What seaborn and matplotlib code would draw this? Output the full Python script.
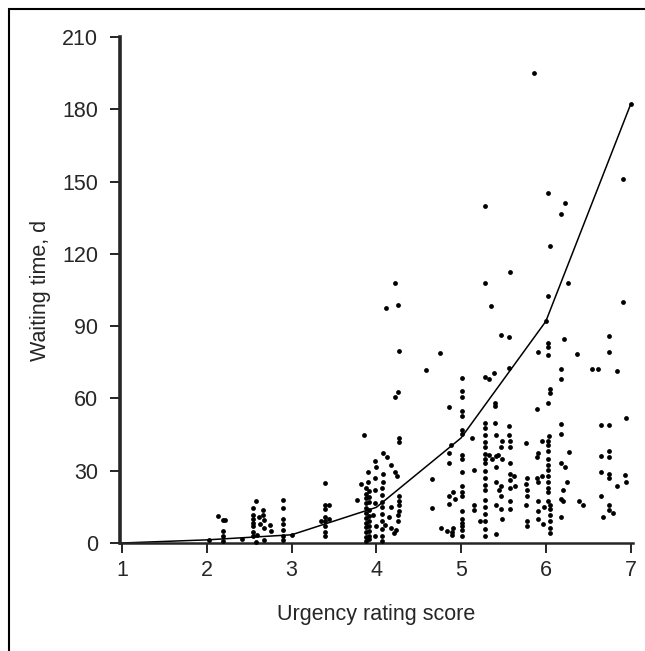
import numpy as np
import pandas as pd
import seaborn as sns
import matplotlib.pyplot as plt
from matplotlib.patches import Rectangle

# mean waiting time per urgency score (the line)
line_score = [1, 2, 3, 4, 5, 6, 7]
line_wait = [0, 1.3, 3.4, 14.8, 43.6, 92.0, 182.0]

# individual patients, grouped by score band
score_2_3 = [2.03, 2.13, 2.21, 2.19, 2.19, 2.19, 2.19, 2.41,
             2.58, 2.54, 2.55, 2.55, 2.55, 2.55, 2.55, 2.54, 2.58,
             2.66, 2.66, 2.61, 2.68, 2.63, 2.75, 2.76, 2.68, 2.68, 2.59,
             2.90, 2.90, 2.90, 2.90, 2.90, 2.90, 2.90, 3.00]
wait_2_3 = [1.2, 11.4, 9.5, 9.5, 5, 3, 1, 1.7,
            17.6, 14.6, 11.5, 9.8, 8.4, 7.2, 4.6, 2.9, 0.5,
            13.6, 11.5, 10.7, 9.5, 7.8, 7.6, 5, 6.4, 1.2, 3.2,
            17.9, 14.6, 9.8, 7.8, 5.5, 2.9, 1.2, 3.3]

score_3_4 = [3.40, 3.40, 3.44, 3.40, 3.40, 3.40, 3.44, 3.40, 3.40, 3.40, 3.35,
             3.85, 3.77, 3.82, 3.90, 3.90,
             3.88, 3.88, 3.88, 3.88, 3.88, 3.88, 3.88, 3.88, 3.88, 3.88, 3.88, 3.88,
             3.91, 3.91, 3.91, 3.91, 3.91, 3.91, 3.91, 3.91, 3.91, 3.91,
             3.98, 4.00, 3.98, 3.98, 3.98, 3.96, 4.00, 3.98,
             4.08, 4.13, 4.17, 4.22, 4.24, 4.08, 4.08,
             4.07, 4.07, 4.07, 4.07, 4.07, 4.07, 4.07, 4.07, 4.07,
             4.10, 4.17, 4.15, 4.17, 4.21, 4.23, 4.25, 4.26, 4.27, 4.27, 4.27, 4.27,
             4.12, 4.22, 4.26, 4.22, 4.26, 4.27, 4.27, 4.27]
wait_3_4 = [24.8, 15.8, 15.8, 14.1, 10.7, 9, 10, 7.2, 4.6, 2.9, 9,
            45, 18, 24.5, 29.6, 25.3,
            22.7, 20.5, 18.5, 16.5, 14.5, 12.5, 10.5, 8.5, 6.5, 4.5, 2.5, 1,
            21.5, 19, 17, 13.5, 11, 9, 7, 5, 3, 1.5,
            34, 31.4, 27, 21.9, 16.7, 11.5, 7.2, 2.9,
            37.4, 35.7, 32.2, 29.6, 27.9, 28.8, 25.3,
            22.7, 20, 17, 15, 12, 9, 6, 3, 1,
            7.5, 15, 10.7, 6.4, 4, 5.5, 9, 11.5, 13.3, 17.6, 19.3, 15.6,
            97.7, 107.8, 98.9, 60.6, 62.7, 79.6, 43.4, 42]

score_4_5 = [4.59, 4.75, 4.66, 4.66, 4.76, 4.83, 4.86, 4.86, 4.86, 4.86, 4.86,
             4.89, 4.89, 4.88, 4.90, 4.90, 4.93,
             5.01, 5.01, 5.01, 5.01, 5.01, 5.01, 5.01, 5.01, 5.01, 5.01,
             5.01, 5.01, 5.01, 5.01, 5.01, 5.01, 5.01, 5.01, 5.01,
             5.13, 5.15, 5.15, 5.15, 5.22]
wait_4_5 = [71.8, 78.7, 26.5, 14.6, 6.4, 5, 56.3, 37.4, 33, 19.3, 16.2,
            4.7, 3.3, 40.8, 21, 6.4, 18.4,
            68.4, 63.2, 60.6, 54.6, 52.9, 46.9, 45.1, 36.5, 34.8, 29.6,
            23.6, 21, 19.3, 13.3, 9.8, 7.2, 5.5, 2.9, 8.5,
            43.4, 30.5, 15.8, 13.6, 9]

score_5_6 = [5.28] * 21 + [
    5.35, 5.33, 5.33, 5.36, 5.39, 5.40, 5.40, 5.40, 5.41, 5.41, 5.43, 5.41, 5.41,
    5.41, 5.41, 5.45,
    5.47, 5.48, 5.47, 5.48, 5.47, 5.47, 5.47, 5.48,
    5.56, 5.56, 5.57, 5.58, 5.58, 5.58, 5.58, 5.58, 5.58, 5.58, 5.58, 5.58, 5.57,
    5.63, 5.64,
    5.77, 5.78, 5.77, 5.78, 5.78, 5.77, 5.78, 5.78, 5.86, 5.89, 5.89, 5.91, 5.89,
    5.91, 5.91, 5.91, 5.91, 5.96, 5.96, 5.97, 5.91]
wait_5_6 = [139.9, 108, 68.7, 49.8, 47.7, 45, 42, 40, 37, 35, 33, 30, 27, 24, 22,
            18, 15, 12, 9, 6, 3,
            98.2, 68, 36.5, 34.8, 70.6, 58, 56.8, 49.8, 45, 36, 36.5, 31.4, 25.3,
            15.8, 3.8, 22,
            86.5, 42.5, 40, 34.8, 23.6, 19.3, 14.1, 9.8,
            85.6, 45, 48.5, 42.5, 40, 33, 28.8, 26.2, 22.7, 17.6, 14.1, 112.3, 72.7,
            28, 23.6,
            41.7, 27, 24.5, 21.9, 19.3, 15.8, 9, 7.2, 195, 55.5, 35.7, 37.4, 27,
            25.3, 17.6, 13.3, 9.8, 42.5, 27.9, 7.8, 79.1]

score_6_7 = [6.02, 6.05, 6.02, 6.00, 6.02, 6.02, 6.02, 6.02, 6.05, 6.05, 6.02, 6.02,
             6.04, 6.03, 6.02, 6.02, 6.03, 6.02, 6.03, 6.02, 6.03, 6.02, 6.05,
             6.05, 6.05, 6.05, 6.05, 6.05, 5.98,
             6.18, 6.23, 6.26, 6.22, 6.18, 6.18, 6.18, 6.18, 6.18, 6.23, 6.27,
             6.25, 6.20, 6.18, 6.20, 6.18, 6.37, 6.39, 6.44,
             6.55, 6.62, 6.65, 6.65, 6.65, 6.65, 6.67, 6.74, 6.74, 6.74, 6.74,
             6.74, 6.75, 6.75, 6.75, 6.75, 6.79, 6.84, 6.84, 6.91, 6.91, 6.93,
             6.95, 6.95, 7.00]
wait_6_7 = [145.4, 123.2, 102.5, 92.0, 83, 81.3, 78.2, 58, 64, 62.4, 42.5, 40.8,
            44.3, 38.2, 34.8, 32.2, 30.5, 27.9, 25.3, 22.7, 21, 17.6, 15.8,
            14.1, 11.5, 9, 6.4, 4.3, 15,
            136.4, 141, 108, 84.7, 72.1, 68, 49.4, 45.1, 33, 31.4, 37.7,
            25.3, 21.9, 18.4, 17.6, 10.7, 78.5, 17.6, 15.8,
            72.3, 72.3, 49.1, 36, 29.6, 19.3, 10.7, 85.9, 79.1, 49.1, 38.2,
            35.7, 28.8, 27, 15.8, 13.6, 12.4, 71.4, 23.6, 151, 99.9, 28.4,
            52, 25.3, 182.0]

df = pd.DataFrame({
    "score": score_2_3 + score_3_4 + score_4_5 + score_5_6 + score_6_7,
    "wait": wait_2_3 + wait_3_4 + wait_4_5 + wait_5_6 + wait_6_7,
})
means = pd.DataFrame({"score": line_score, "wait": line_wait})

sns.set_style("ticks")
plt.rcParams['font.family'] = ['Liberation Sans', 'DejaVu Sans']

fig = plt.figure(figsize=(6.45, 6.51), dpi=100)
ax = fig.add_axes([0.1853, 0.1659, 0.7963, 0.7773])

sns.lineplot(data=means, x="score", y="wait", color="black", linewidth=1.1, ax=ax)
sns.scatterplot(data=df, x="score", y="wait", color="black", s=12, linewidth=0,
                ax=ax, clip_on=False, zorder=3)

ax.set_xlim(0.97, 7.03)
ax.set_ylim(0, 210)
ax.set_xticks(range(1, 8))
ax.set_yticks(range(0, 211, 30))
ax.tick_params(axis="both", labelsize=15.5, length=7.5, width=1.2, color="black")
ax.tick_params(axis="y", pad=8)
ax.tick_params(axis="x", pad=5)

sns.despine(ax=ax)
ax.spines["left"].set_linewidth(2.6)
ax.spines["bottom"].set_linewidth(1.8)

ax.set_xlabel("Urgency rating score", fontsize=15.5, labelpad=16)
ax.set_ylabel("Waiting time, d", fontsize=15.5, labelpad=8)

# frame around the whole figure
fig.patches.append(Rectangle((9 / 645, -0.2), 1.5, 1.2 - 9 / 651,
                             transform=fig.transFigure, fill=False,
                             edgecolor="black", linewidth=1.5))

plt.savefig("out.png", dpi=100)
